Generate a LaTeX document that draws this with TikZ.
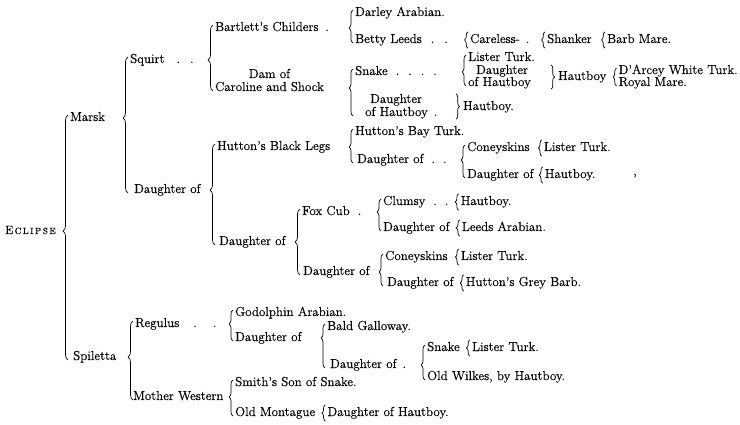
\documentclass[tikz,border=0pt]{standalone}
\usepackage{fontspec}
\setmainfont{Latin Modern Roman}[FakeBold=0.35]
\usetikzlibrary{decorations.pathreplacing,calc}
% left brace from top child to bottom child, tip at the parent's row
\newcommand\BR[4][4pt]{%
  \path let \p1=(#2.east),\p2=(#3.west),\p3=(#4.west) in
    \pgfextra{\pgfmathsetmacro\brasp{((\y1)-(\y3)+3)/((\y2)-(\y3)+6)}\global\let\brasp\brasp};
  \draw[brc,decoration={brace,amplitude=#1,aspect=\brasp}]
    let \p2=(#3.west),\p3=(#4.west) in (\x2-2pt,\y3-3pt) -- (\x2-2pt,\y2+3pt);
}
% single left brace in front of one child
\newcommand\SBR[1]{%
  \draw[brc,decoration={brace,amplitude=3.5pt}]
    ([shift={(-2pt,-2pt)}]#1.south west) -- ([shift={(-2pt,2pt)}]#1.north west);
}
% right brace after a two-line group, pointing at the next node
\newcommand\RBX[3]{%
  \draw[brc,decoration={brace,amplitude=3.5pt}]
    let \p1=(#1.north),\p2=(#2.south),\p3=(#3.west) in (\x3-7pt,\y1) -- (\x3-7pt,\y2);
}
\begin{document}
\begin{tikzpicture}[x=1pt,y=-1pt,
  txt/.style={anchor=west,inner sep=0pt,text height=9pt,text depth=3pt,
              font=\fontsize{13}{13}\selectfont},
  brc/.style={line width=0.7pt,decorate}]
\useasboundingbox (0,0) rectangle (740,425);
\fill[white] (0,0) rectangle (740,425);

% column 0-2
\node[txt] (eclipse) at (5,231) {{\fontsize{12}{12}\selectfont E}{\fontsize{9}{9}\selectfont\,C\,L\,I\,P\,S\,E}};
\node[txt] (marsk) at (70,118) {Marsk};
\node[txt] (spiletta) at (73,357) {Spiletta};
\node[txt] (squirt) at (130,60) {Squirt\hspace{12pt}.\hspace{10pt}.};
\node[txt] (dofM) at (134,190) {Daughter of};
\node[txt] (regulus) at (135,324) {Regulus\hspace{14pt}.\hspace{16pt}.};
\node[txt] (motherw) at (133,397) {Mother Western};

% column 3
\node[txt] (bartlett) at (215,28) {Bartlett's Childers\hspace{7pt}.};
\node[txt] (caroline) at (215,88) {Caroline and Shock};
\node[txt,anchor=center] (damof) at ([yshift=13pt]caroline.center) {Dam of};
\node[txt] (hbl) at (217,147) {Hutton's Black Legs};
\node[txt] (dof2) at (219,242) {Daughter of};
\node[txt] (godolphin) at (235,313) {Godolphin Arabian.};
\node[txt] (dofR) at (235,338) {Daughter of};
\node[txt] (smith) at (235,383) {Smith's Son of Snake.};
\node[txt] (oldmont) at (235,413) {Old Montague};

% column 4
\node[txt] (foxcub) at (302,212) {Fox Cub\hspace{8pt}.};
\node[txt] (dof3) at (303,272) {Daughter of};
\node[txt] (bald) at (327,327) {Bald Galloway.};
\node[txt] (dofR2) at (330,365) {Daughter of\hspace{6pt}.};

% column 5
\node[txt] (darley) at (355,13) {Darley Arabian.};
\node[txt] (betty) at (355,40) {Betty Leeds\hspace{9pt}.\hspace{10pt}.};
\node[txt] (snake) at (355,72) {Snake\hspace{8pt}.\hspace{9pt}.\hspace{9pt}.\hspace{9pt}.};
\node[txt] (dh1a) at (370,100) {Daughter};
\node[txt] (dh1b) at (365,113) {of Hautboy\hspace{6pt}.};
\node[txt] (hautboyA) at (463,107) {Hautboy.};
\node[txt] (hbay) at (355,132) {Hutton's Bay Turk.};
\node[txt] (dofH) at (357,160) {Daughter of\hspace{8pt}.\hspace{8pt}.};
\node[txt] (clumsy) at (383,202) {Clumsy\hspace{8pt}.\hspace{8pt}.};
\node[txt] (dofC) at (383,228) {Daughter of};
\node[txt] (coney2) at (385,257) {Coneyskins};
\node[txt] (dofC2) at (387,283) {Daughter of};
\node[txt] (snakeR) at (427,348) {Snake};
\node[txt] (wilkes) at (427,377) {Old Wilkes, by Hautboy.};

% column 6+
\node[txt] (lister1) at (468,58) {Lister Turk.};
\node[txt] (dh2a) at (476,71) {Daughter};
\node[txt] (dh2b) at (468,83) {of Hautboy};
\node[txt] (hautboyB) at (558,77) {Hautboy};
\node[txt] (darcey) at ([xshift=12pt,yshift=6pt]hautboyB.east) {D'Arcey White Turk.};
\node[txt] (royal) at ([yshift=-12pt]darcey.west) {Royal Mare.};
\node[txt] (coney1) at (467,148) {Coneyskins};
\node[txt] (dofH2) at (467,175) {Daughter of};

% single entries
\node[txt] (careless) at (470,40) {Careless-\hspace{6pt}.};
\node[txt] (shanker) at (547,40) {Shanker};
\node[txt] (barb) at (607,40) {Barb Mare.};
\node[txt] (lister2) at ([xshift=14pt]coney1.east) {Lister Turk.};
\node[txt] (hautboyD) at ([xshift=11pt]dofH2.east) {Hautboy.};
\node[txt] (hautboyC) at ([xshift=12pt]clumsy.east) {Hautboy.};
\node[txt] (leeds) at ([xshift=12pt]dofC.east) {Leeds Arabian.};
\node[txt] (lister3) at ([xshift=13pt]coney2.east) {Lister Turk.};
\node[txt] (grey) at ([xshift=12pt]dofC2.east) {Hutton's Grey Barb.};
\node[txt] (lister4) at ([xshift=12pt]snakeR.east) {Lister Turk.};
\node[txt] (dhOM) at ([xshift=12pt]oldmont.east) {Daughter of Hautboy.};
\node[txt] (comma) at (633,172) {,};

% braces
\BR[5pt]{eclipse}{marsk}{spiletta}
\BR[5pt]{marsk}{squirt}{dofM}
\BR[5pt]{spiletta}{regulus}{motherw}
\BR[5pt]{squirt}{bartlett}{caroline}
\BR[5pt]{dofM}{hbl}{dof2}
\BR{regulus}{godolphin}{dofR}
\BR{motherw}{smith}{oldmont}
\BR{bartlett}{darley}{betty}
\BR{caroline}{snake}{dh1b}
\BR{hbl}{hbay}{dofH}
\BR[5pt]{dof2}{foxcub}{dof3}
\BR{dofR}{bald}{dofR2}
\BR{foxcub}{clumsy}{dofC}
\BR{dof3}{coney2}{dofC2}
\BR{dofR2}{snakeR}{wilkes}
\BR{snake}{lister1}{dh2b}
\BR{dofH}{coney1}{dofH2}
\BR[3.5pt]{hautboyB}{darcey}{royal}
\RBX{dh1a}{dh1b}{hautboyA}
\RBX{dh2a}{dh2b}{hautboyB}
\SBR{careless}
\SBR{shanker}
\SBR{barb}
\SBR{lister2}
\SBR{hautboyD}
\SBR{hautboyC}
\SBR{leeds}
\SBR{lister3}
\SBR{grey}
\SBR{lister4}
\SBR{dhOM}
\end{tikzpicture}
\end{document}
